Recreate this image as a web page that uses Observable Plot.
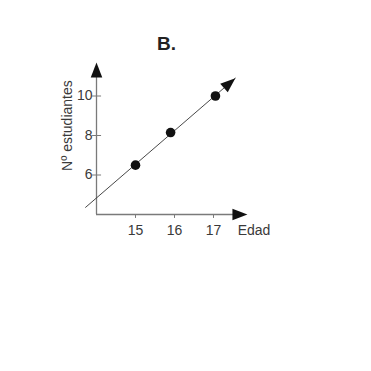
<!DOCTYPE html>
<html>
<head>
<meta charset="utf-8">
<script src="https://cdn.jsdelivr.net/npm/d3@7"></script>
<script src="https://cdn.jsdelivr.net/npm/@observablehq/plot@0.6"></script>
<style>
  html, body { margin: 0; padding: 0; background: #fff; }
</style>
</head>
<body>
<div id="chart"></div>
<script>
// Edad (años) y número de estudiantes
const edad = [15, 15.9, 17.05];
const estudiantes = [6.5, 8.15, 10];

// Marcas de los ejes
const xTicks = [15, 16, 17];
const yTicks = [6, 8, 10];

// Textos
const titulo = "B.";
const etiquetaX = "Edad";
const etiquetaY = "Nº estudiantes";

// Dominios y extensión de la recta de tendencia
const xDomain = [14, 18];
const yDomain = [4, 12];
const xAxisEnd = 17.87;
const yAxisEnd = 11.7;
const trendRange = [13.72, 17.56];

const width = 371, height = 371;
const margin = {left: 96, right: 119, top: 56, bottom: 157};

const points = edad.map((x, i) => ({x, y: estudiantes[i]}));

// Recta de mínimos cuadrados a través de los puntos
const mx = d3.mean(edad), my = d3.mean(estudiantes);
const slope = d3.sum(points, d => (d.x - mx) * (d.y - my)) / d3.sum(points, d => (d.x - mx) ** 2);
const fit = x => my + slope * (x - mx);
const trend = trendRange.map(x => ({x, y: fit(x)}));

// Ángulo de la recta en píxeles para orientar su flecha
const kx = (width - margin.left - margin.right) / (xDomain[1] - xDomain[0]);
const ky = (height - margin.top - margin.bottom) / (yDomain[1] - yDomain[0]);
const trendAngle = 90 - Math.atan(slope * ky / kx) * 180 / Math.PI;

// Punta de flecha rellena con el vértice en el origen, apuntando hacia arriba
const arrowHead = {
  draw(context) {
    const L = 15, W = 11.5;
    context.moveTo(0, 0);
    context.lineTo(W / 2, L);
    context.lineTo(-W / 2, L);
    context.closePath();
  }
};

const axisColor = "#7a7a7a";
const textColor = "#3a3a3a";
const font = "Liberation Sans, Arial, Helvetica, sans-serif";

const chart = Plot.plot({
  width, height,
  marginLeft: margin.left, marginRight: margin.right,
  marginTop: margin.top, marginBottom: margin.bottom,
  style: {fontFamily: font},
  x: {domain: xDomain, axis: null},
  y: {domain: yDomain, axis: null},
  marks: [
    // Ejes
    Plot.ruleY([yDomain[0]], {x1: xDomain[0], x2: xAxisEnd - 0.3, stroke: axisColor, strokeWidth: 1.3}),
    Plot.ruleX([xDomain[0]], {y1: yDomain[0], y2: yAxisEnd - 0.6, stroke: axisColor, strokeWidth: 1.3}),
    Plot.dot([{x: xAxisEnd, y: yDomain[0]}], {x: "x", y: "y", symbol: arrowHead, rotate: 90, fill: "#111", stroke: "none", r: 5}),
    Plot.dot([{x: xDomain[0], y: yAxisEnd}], {x: "x", y: "y", symbol: arrowHead, rotate: 0, fill: "#111", stroke: "none", r: 5}),
    // Marcas de graduación
    Plot.ruleX(xTicks, {y1: yDomain[0], y2: yDomain[0] - 0.2, stroke: axisColor}),
    Plot.ruleY(yTicks, {x1: xDomain[0] - 0.1, x2: xDomain[0] + 0.13, stroke: axisColor}),
    Plot.text(xTicks, {x: d => d, frameAnchor: "bottom", lineAnchor: "top", dy: 11, textAnchor: "middle", text: d => String(d), fontSize: 14, fill: textColor}),
    Plot.text(yTicks, {y: d => d, frameAnchor: "left", dx: -4, textAnchor: "end", text: d => String(d), fontSize: 14, fill: textColor}),
    // Etiquetas de los ejes
    Plot.text([etiquetaX], {x: 17.62, frameAnchor: "bottom", lineAnchor: "top", dy: 11, textAnchor: "start", text: d => d, fontSize: 14, fill: textColor}),
    Plot.text([etiquetaY], {y: 8.5, frameAnchor: "left", dx: -29, rotate: -90, textAnchor: "middle", text: d => d, fontSize: 14, fill: textColor}),
    // Título
    Plot.text([titulo], {frameAnchor: "top", lineAnchor: "top", dx: -8, dy: -20, textAnchor: "middle", text: d => d, fontSize: 19, fontWeight: "bold", fill: "#222"}),
    // Recta de tendencia con flecha
    Plot.line(trend, {x: "x", y: "y", stroke: "#333", strokeWidth: 0.9}),
    Plot.dot([trend[1]], {x: "x", y: "y", symbol: arrowHead, rotate: trendAngle, fill: "#111", stroke: "none", r: 5}),
    // Puntos
    Plot.dot(points, {x: "x", y: "y", r: 4.8, fill: "#111", stroke: "none"})
  ]
});

document.getElementById("chart").append(chart);
</script>
</body>
</html>
